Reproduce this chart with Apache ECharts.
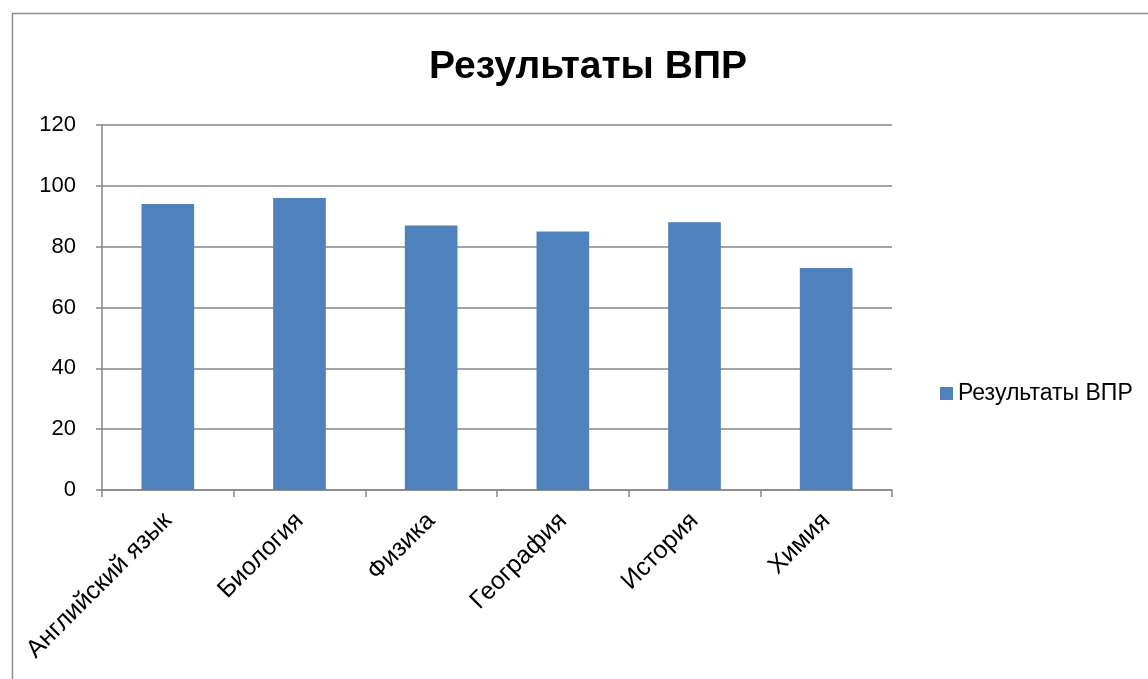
<!DOCTYPE html>
<html>
<head>
<meta charset="utf-8">
<script src="https://cdn.jsdelivr.net/npm/echarts@6/dist/echarts.min.js"></script>
<style>
  html, body { margin: 0; padding: 0; background: #fff; }
  #chart { width: 1148px; height: 679px; }
</style>
</head>
<body>
<div id="chart"></div>
<script>
// Subjects and their results
const subjects = ['Английский язык', 'Биология', 'Физика', 'География', 'История', 'Химия'];
const results = [94, 96, 87, 85, 88, 73];
const seriesName = 'Результаты ВПР';
const chartTitle = 'Результаты ВПР';

const axisGray = '#868686';
const font = '"Liberation Sans", "DejaVu Sans", sans-serif';

const chart = echarts.init(document.getElementById('chart'), null, { renderer: 'canvas' });
chart.setOption({
  animation: false,
  backgroundColor: '#fff',
  title: {
    text: chartTitle,
    left: 583,
    textAlign: 'center',
    top: 43,
    textStyle: { fontFamily: font, fontSize: 39, fontWeight: 'bold', color: '#000' }
  },
  graphic: [{
    type: 'rect',
    shape: { x: 12.5, y: 13.5, width: 1150, height: 680 },
    style: { fill: 'none', stroke: '#8c8c8c', lineWidth: 1.5 },
    silent: true
  }],
  legend: {
    orient: 'vertical',
    left: 935,
    top: 377,
    itemWidth: 13,
    itemHeight: 13,
    itemGap: 10,
    icon: 'rect',
    textStyle: { fontFamily: font, fontSize: 23, color: '#000' },
    data: [seriesName]
  },
  grid: { left: 102, right: 256, top: 125, bottom: 189 },
  xAxis: {
    type: 'category',
    data: subjects,
    axisLine: { lineStyle: { color: axisGray, width: 1.5 } },
    axisTick: { show: true, alignWithLabel: false, length: 7, lineStyle: { color: axisGray, width: 1.5 } },
    axisLabel: {
      rotate: 45,
      interval: 0,
      margin: 27,
      fontFamily: font,
      fontSize: 25,
      color: '#000'
    }
  },
  yAxis: {
    type: 'value',
    min: 0,
    max: 120,
    interval: 20,
    axisLine: { show: true, lineStyle: { color: axisGray, width: 1.5 } },
    axisTick: { show: true, length: 6, lineStyle: { color: axisGray, width: 1.5 } },
    splitLine: { show: true, lineStyle: { color: axisGray, width: 1.5 } },
    axisLabel: { margin: 26, fontFamily: font, fontSize: 22, color: '#000' }
  },
  series: [{
    name: seriesName,
    type: 'bar',
    data: results,
    barWidth: '40%',
    itemStyle: { color: '#4F81BD' }
  }]
});
</script>
</body>
</html>
